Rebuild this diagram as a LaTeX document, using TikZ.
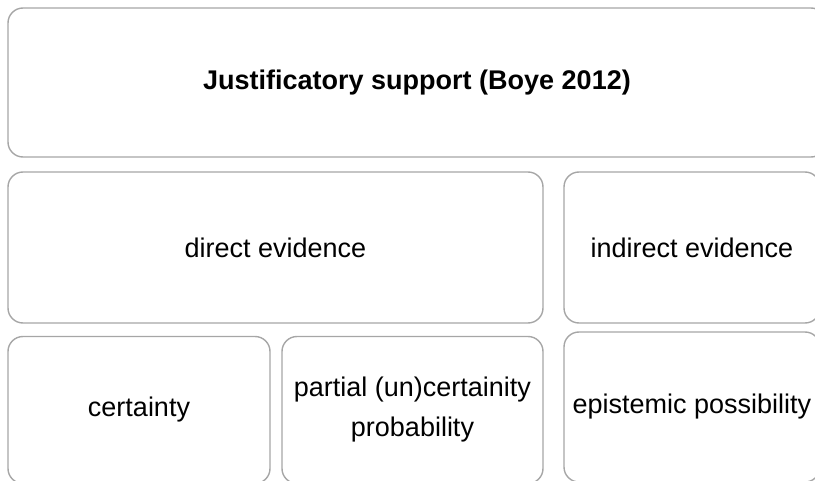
\documentclass[tikz,border=0pt]{standalone}
\usepackage{fontspec}
\setmainfont{Liberation Sans}
\usepackage{tikz}
\usetikzlibrary{positioning}
\definecolor{boxgray}{RGB}{166,166,166}
\tikzset{font=\fontsize{27}{40}\selectfont}
\tikzstyle{blk}=[draw=boxgray,line width=1.4pt,rounded corners=15pt,align=center,inner sep=0pt]

\begin{document}
\begin{tikzpicture}[x=1pt,y=-1pt]
\useasboundingbox (0,0) rectangle (815,481);
\clip (0,0) rectangle (815,481);
\node[blk,minimum width=818pt,minimum height=149pt] (top) at (417,82.5) {\bfseries Justificatory support (Boye 2012)};
\node[blk,minimum width=535pt,minimum height=151pt] (dir) at (275.5,247.5) {direct evidence};
\node[blk,minimum width=256pt,minimum height=151pt] (ind) at (692,247.5) {indirect evidence};
\node[blk,minimum width=262pt,minimum height=147pt] (cert) at (139,410) {certainty};
\node[blk,minimum width=261pt,minimum height=147pt] (part) at (412.5,410) {partial (un)certainity\\probability};
\node[blk,minimum width=256pt,minimum height=150pt] (epi) at (692,407) {epistemic possibility};
\end{tikzpicture}
\end{document}
